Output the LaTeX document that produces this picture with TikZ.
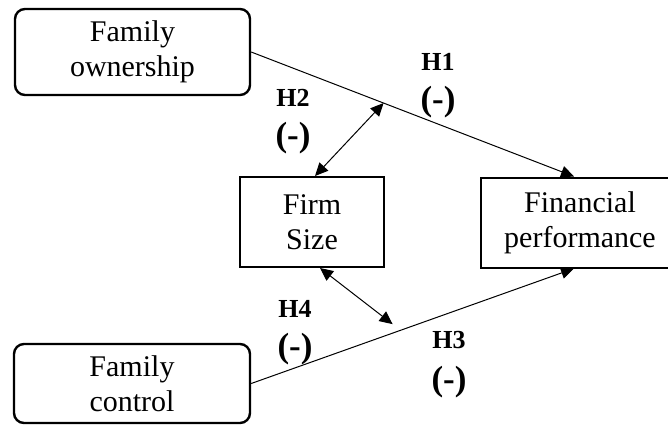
\documentclass[tikz,border=0pt]{standalone}
\usepackage{fontspec}
\setmainfont{Liberation Serif}
\usetikzlibrary{arrows.meta}

\begin{document}
\begin{tikzpicture}[x=1pt,y=-1pt,
    roundbox/.style={draw,line width=2.4pt,rounded corners=10pt,align=center,inner sep=0pt,
      minimum width=235pt,minimum height=86pt,font=\fontsize{30}{35}\selectfont},
    sqbox/.style={draw,line width=2pt,align=center,inner sep=0pt,
      minimum height=90pt,font=\fontsize{30}{35}\selectfont},
    hyp/.style={font=\bfseries\fontsize{26}{29}\selectfont},
    sign/.style={font=\bfseries\fontsize{35}{38}\selectfont},
    link/.style={line width=1pt,-{Triangle[length=13pt,width=12pt]}},
    twoway/.style={line width=1pt,{Triangle[length=13pt,width=12pt]}-{Triangle[length=13pt,width=12pt]}}]
    \useasboundingbox (0,0) rectangle (668,425);
    \clip (0,0) rectangle (668,425);

    % Boxes
    \node[roundbox] (own) at (132.5,52) {Family\\ownership};
    \node[roundbox,minimum width=236pt,minimum height=79pt] (ctrl) at (132,383.5) {Family\\control};
    \node[sqbox,minimum width=144pt] (firm) at (312,222) {Firm\\Size};
    \node[sqbox,minimum width=198pt] (fin) at (580,222.5) {Financial\\performance};

    % Direct paths
    \draw[link] (own.east) -- coordinate[pos=0.41] (h1pt) ([xshift=-6pt]fin.north);
    \draw[link] (ctrl.east) -- coordinate[pos=0.438] (h3pt) ([xshift=-6pt]fin.south);

    % Moderation
    \draw[twoway] ([xshift=3pt]firm.north) -- (h1pt);
    \draw[twoway] ([xshift=8pt]firm.south) -- ([yshift=9pt]h3pt);

    % Labels
    \node[hyp] (h1) at (438,62) {H1};
    \node[sign] (s1) at (438,102) {(-)};
    \node[hyp] (h2) at (293,98) {H2};
    \node[sign] (s2) at (293,138) {(-)};
    \node[hyp] (h4) at (295,309) {H4};
    \node[sign] (s4) at (295,349) {(-)};
    \node[hyp] (h3) at (449,340) {H3};
    \node[sign] (s3) at (449,382) {(-)};
\end{tikzpicture}
\end{document}
